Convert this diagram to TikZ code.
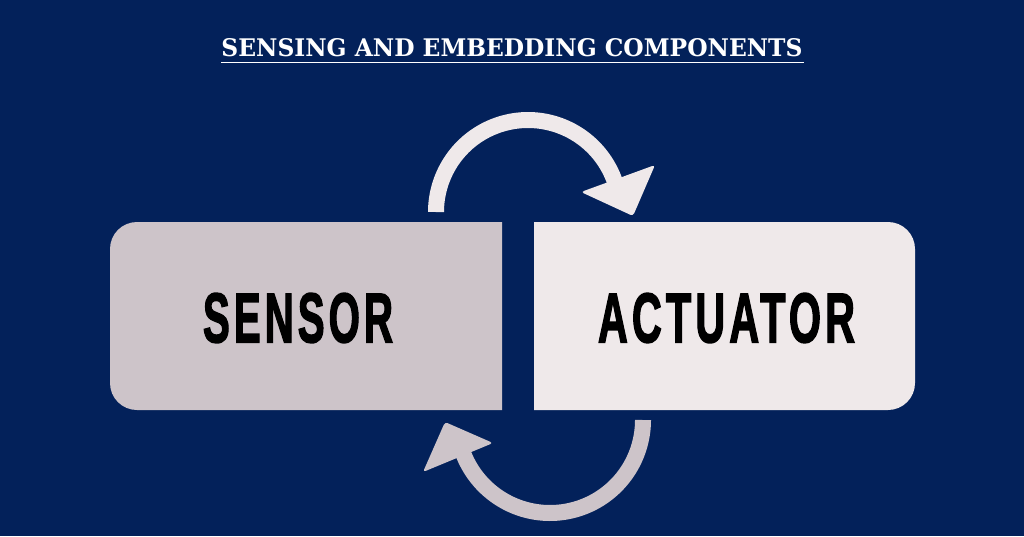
\documentclass[tikz,border=0pt]{standalone}
\usepackage{fontspec}
\usepackage{graphicx}
\newfontfamily\titlefont{DejaVu Serif}[BoldFont={DejaVu Serif Bold}]
\newfontfamily\boxfont{Liberation Sans}[LetterSpace=10.0, BoldFont={Liberation Sans Bold}, BoldFeatures={FakeBold=2.5}]
\definecolor{navy}{HTML}{03215A}
\definecolor{sensc}{HTML}{CDC4C9}
\definecolor{actc}{HTML}{EFE9EA}
\begin{document}
\begin{tikzpicture}[x=1pt,y=-1pt,
  boxlabel/.style={inner sep=0pt, text=black},
  arrowline/.style={line width=16pt},
  arrowhead/.style={rounded corners=3pt}]
\fill[navy] (0,0) rectangle (1024,536);
\useasboundingbox (0,0) rectangle (1024,536);
% title
\node[inner sep=0pt, text=white, anchor=south] (title) at (512,57)
  {\resizebox{581pt}{18pt}{\titlefont\bfseries SENSING AND EMBEDDING COMPONENTS}};
\draw[white, line width=1.6pt] (221,62.5) -- (804,62.5);
% boxes
\fill[sensc] (502,222) -- (502,410) [rounded corners=27pt] -- (110,410) -- (110,222) [sharp corners] -- cycle;
\fill[actc] (534,222) [rounded corners=27pt] -- (915,222) -- (915,410) [sharp corners] -- (534,410) -- cycle;
\node[boxlabel] (sensor) at (298,318) {\resizebox{190pt}{49pt}{\boxfont\bfseries SENSOR}};
\node[boxlabel] (actuator) at (726.5,318) {\resizebox{257pt}{49pt}{\boxfont\bfseries ACTUATOR}};
% top arrow
\draw[actc, arrowline] plot[domain=180:341, samples=80, smooth] ({528+92*cos(\x)},{212+92*sin(\x)});
\fill[actc, arrowhead] (655,165) -- (581,192) -- (633,216) -- cycle;
% bottom arrow
\draw[sensc, arrowline] plot[domain=0:159, samples=80, smooth] ({550+93*cos(\x)},{420+93*sin(\x)});
\fill[sensc, arrowhead] (423,472) -- (493,443) -- (445,422) -- cycle;
\end{tikzpicture}
\end{document}
